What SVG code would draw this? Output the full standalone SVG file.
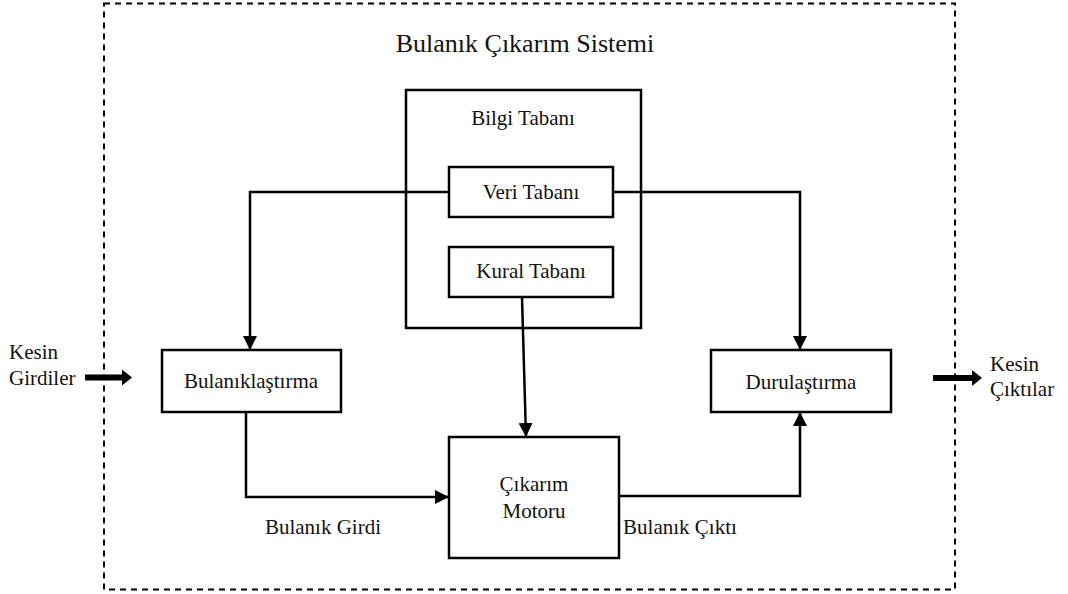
<svg xmlns="http://www.w3.org/2000/svg" width="1068" height="594" viewBox="0 0 1068 594">
  <defs>
    <marker id="arrow" viewBox="0 0 14 14" refX="14" refY="7" markerWidth="14" markerHeight="14" markerUnits="userSpaceOnUse" orient="auto">
      <path d="M0,0 L14,7 L0,14 Z" fill="#000"/>
    </marker>
    <style>
      .box { fill: #fff; stroke: #000; stroke-width: 2.5; }
      .frame { fill: none; stroke: #000; stroke-width: 2; stroke-dasharray: 6 5; }
      .conn { fill: none; stroke: #000; stroke-width: 2.5; }
      .lbl { font-family: "Liberation Serif", "Times New Roman", serif; font-size: 21px; fill: #111; }
      .mid { text-anchor: middle; }
      .title { font-family: "Liberation Serif", "Times New Roman", serif; font-size: 26px; fill: #111; text-anchor: middle; }
    </style>
  </defs>

  <rect width="1068" height="594" fill="#fff"/>

  <!-- system boundary -->
  <rect class="frame" x="104" y="3.5" width="851" height="586"/>
  <text class="title" x="525" y="52">Bulanık Çıkarım Sistemi</text>

  <g id="bilgi-tabani">
    <rect class="box" x="406" y="90" width="235" height="238"/>
    <text class="lbl mid" x="523" y="125">Bilgi Tabanı</text>
  </g>
  <g id="veri-tabani">
    <rect class="box" x="449" y="167" width="164" height="50"/>
    <text class="lbl mid" x="531" y="199">Veri Tabanı</text>
  </g>
  <g id="kural-tabani">
    <rect class="box" x="449" y="247" width="164" height="50"/>
    <text class="lbl mid" x="531" y="278">Kural Tabanı</text>
  </g>
  <g id="bulaniklastirma">
    <rect class="box" x="162" y="350" width="179" height="62"/>
    <text class="lbl mid" x="251" y="388">Bulanıklaştırma</text>
  </g>
  <g id="durulastirma">
    <rect class="box" x="711" y="350" width="180" height="62"/>
    <text class="lbl mid" x="801" y="389">Durulaştırma</text>
  </g>
  <g id="cikarim-motoru">
    <rect class="box" x="449" y="437" width="170" height="121"/>
    <text class="lbl mid" x="534" y="491">Çıkarım</text>
    <text class="lbl mid" x="534" y="518">Motoru</text>
  </g>

  <g id="girdi">
    <text class="lbl" x="9" y="359">Kesin</text>
    <text class="lbl" x="9" y="385">Girdiler</text>
  </g>
  <g id="cikti">
    <text class="lbl" x="990" y="371">Kesin</text>
    <text class="lbl" x="990" y="396">Çıktılar</text>
  </g>

  <g id="connectors">
    <polyline class="conn" points="449,192 250,192 250,350" marker-end="url(#arrow)"/>
    <polyline class="conn" points="613,192 800,192 800,350" marker-end="url(#arrow)"/>
    <line class="conn" x1="522" y1="297" x2="526" y2="437" marker-end="url(#arrow)"/>
    <polyline class="conn" points="246,412 246,497 449,497" marker-end="url(#arrow)"/>
    <polyline class="conn" points="619,496 800,496 800,412" marker-end="url(#arrow)"/>
    <!-- crisp input / output arrows -->
    <path d="M85,374.5 H122 V369.5 L132,377.5 L122,385.5 V380.5 H85 Z" fill="#000"/>
    <path d="M933,375 H972 V370 L982,378 L972,386 V381 H933 Z" fill="#000"/>
    <text class="lbl mid" x="323" y="534">Bulanık Girdi</text>
    <text class="lbl mid" x="680" y="534">Bulanık Çıktı</text>
  </g>
</svg>
